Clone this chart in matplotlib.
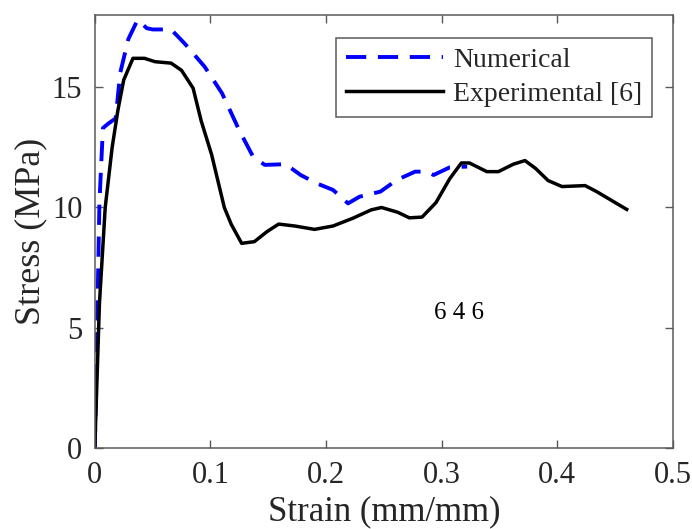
import matplotlib

matplotlib.use("Agg")
import matplotlib.pyplot as plt

# strain (mm/mm) and stress (MPa)
num_strain = [0.0, 0.002, 0.004, 0.007, 0.012, 0.018, 0.022, 0.029, 0.037, 0.045,
              0.050, 0.066, 0.078, 0.095, 0.110, 0.125, 0.137, 0.147, 0.165,
              0.178, 0.192, 0.206, 0.219, 0.229, 0.247, 0.261, 0.277, 0.287,
              0.293, 0.307, 0.322]
num_stress = [0.0, 5.0, 10.2, 13.3, 13.5, 13.7, 15.6, 17.0, 17.8, 17.45,
              17.4, 17.4, 16.8, 15.85, 14.75, 13.2, 12.1, 11.77, 11.8,
              11.35, 11.0, 10.73, 10.17, 10.45, 10.66, 11.14, 11.49, 11.49,
              11.35, 11.67, 11.7]

exp_strain = [0.0, 0.004, 0.009, 0.015, 0.020, 0.025, 0.033, 0.043, 0.052, 0.066,
              0.075, 0.085, 0.092, 0.101, 0.112, 0.118, 0.127, 0.138, 0.149,
              0.159, 0.173, 0.190, 0.206, 0.223, 0.239, 0.248, 0.262, 0.272,
              0.283, 0.295, 0.307, 0.317, 0.324, 0.339, 0.349, 0.362, 0.372,
              0.381, 0.392, 0.404, 0.424, 0.434, 0.460]
exp_stress = [0.0, 6.0, 10.0, 12.5, 14.05, 15.3, 16.2, 16.2, 16.06, 16.0,
              15.7, 14.96, 13.6, 12.2, 10.0, 9.3, 8.51, 8.58, 9.0,
              9.31, 9.23, 9.09, 9.23, 9.55, 9.9, 10.0, 9.8, 9.57,
              9.6, 10.2, 11.2, 11.85, 11.85, 11.49, 11.49, 11.8, 11.95,
              11.63, 11.12, 10.87, 10.91, 10.66, 9.92]

x_ticks = [0, 0.1, 0.2, 0.3, 0.4, 0.5]
y_ticks = [0, 5, 10, 15]

plt.rcParams["font.family"] = ["Liberation Serif", "DejaVu Serif"]
text_col = "#262626"
spine_col = "#5a5a5a"

fig = plt.figure(figsize=(6.92, 5.29), dpi=100)
ax = fig.add_axes([0.137, 0.153, 0.9725 - 0.137, 0.9716 - 0.153])

ax.plot(num_strain, num_stress, color="#0000ff", lw=2.8, dashes=(5.2, 3.0),
        label="Numerical")
ax.plot(exp_strain, exp_stress, color="black", lw=2.5, label="Experimental [6]")

ax.set_xlim(0, 0.5)
ax.set_ylim(0, 18)
ax.set_xticks(x_ticks)
ax.set_xticklabels(["0", "0.1", "0.2", "0.3", "0.4", "0.5"])
ax.set_yticks(y_ticks)
ax.tick_params(direction="in", top=True, right=True, length=6, width=1,
               color=spine_col, labelsize=22, labelcolor=text_col)
ax.tick_params(axis="x", pad=9)
ax.tick_params(axis="y", pad=9)
for s in ax.spines.values():
    s.set_color(spine_col)
    s.set_linewidth(1.1)

ax.set_xlabel("Strain (mm/mm)", fontsize=25, color=text_col, labelpad=4)
ax.set_ylabel("Stress (MPa)", fontsize=26, color=text_col, labelpad=3)

ax.text(0.315, 5.6, "6 4 6", fontsize=18, color="black", ha="center", va="center")

leg = ax.legend(loc="upper right", bbox_to_anchor=(0.9637, 0.947), borderaxespad=0,
                fancybox=False, framealpha=1, edgecolor=spine_col, fontsize=20,
                handlelength=3.5, handletextpad=0.35, borderpad=0.35,
                labelspacing=0.3)
leg.get_frame().set_linewidth(1.1)
for t in leg.get_texts():
    t.set_color(text_col)

fig.savefig("out.png", dpi=100)
plt.close(fig)
